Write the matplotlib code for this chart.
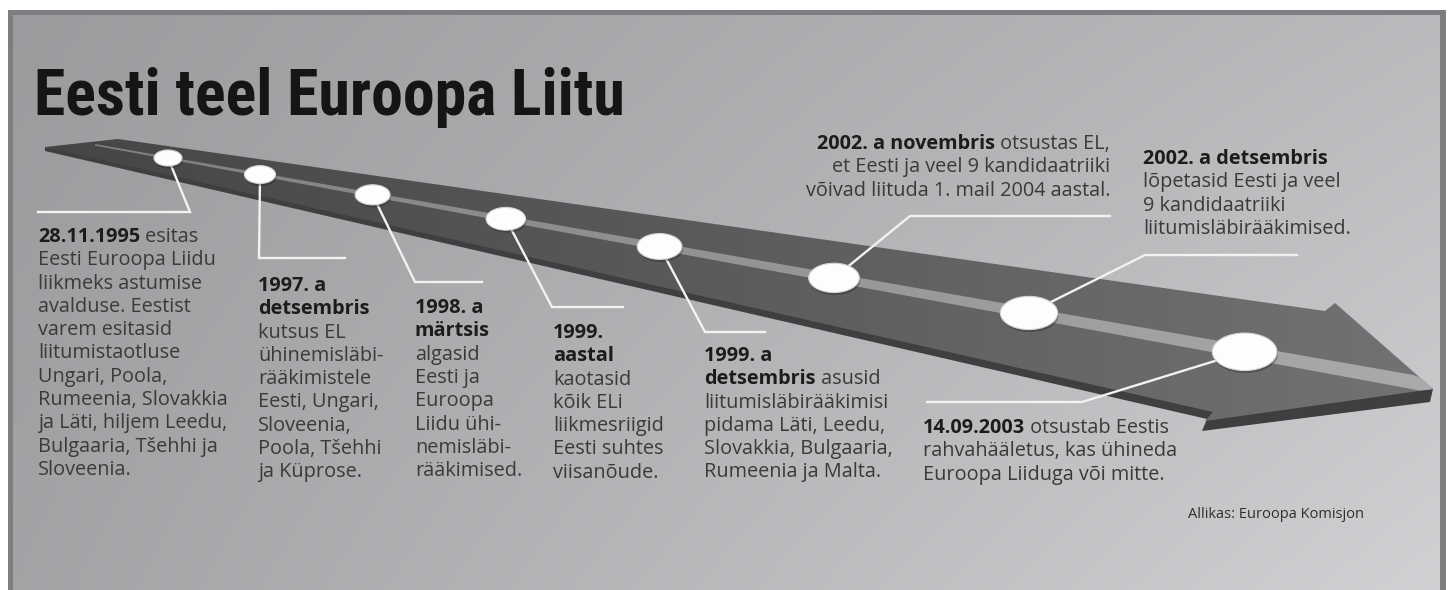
import numpy as np
import matplotlib
matplotlib.use("Agg")
import matplotlib.pyplot as plt
from matplotlib import font_manager
from matplotlib.patches import Polygon, Ellipse

W, H = 1454, 590

title = "Eesti teel Euroopa Liitu"
source = "Allikas: Euroopa Komisjon"

# each event: list of lines, each line = (bold part, plain part)
ev_1995 = [("28.11.1995", " esitas"), ("", "Eesti Euroopa Liidu"), ("", "liikmeks astumise"),
           ("", "avalduse. Eestist"), ("", "varem esitasid"), ("", "liitumistaotluse"),
           ("", "Ungari, Poola,"), ("", "Rumeenia, Slovakkia"), ("", "ja Läti, hiljem Leedu,"),
           ("", "Bulgaaria, Tšehhi ja"), ("", "Sloveenia.")]
ev_1997 = [("1997. a", ""), ("detsembris", ""), ("", "kutsus EL"), ("", "ühinemisläbi-"),
           ("", "rääkimistele"), ("", "Eesti, Ungari,"), ("", "Sloveenia,"),
           ("", "Poola, Tšehhi"), ("", "ja Küprose.")]
ev_1998 = [("1998. a", ""), ("märtsis", ""), ("", "algasid"), ("", "Eesti ja"), ("", "Euroopa"),
           ("", "Liidu ühi-"), ("", "nemisläbi-"), ("", "rääkimised.")]
ev_1999 = [("1999.", ""), ("aastal", ""), ("", "kaotasid"), ("", "kõik ELi"),
           ("", "liikmesriigid"), ("", "Eesti suhtes"), ("", "viisanõude.")]
ev_1999d = [("1999. a", ""), ("detsembris", " asusid"), ("", "liitumisläbirääkimisi"),
            ("", "pidama Läti, Leedu,"), ("", "Slovakkia, Bulgaaria,"), ("", "Rumeenia ja Malta.")]
ev_2002n = [("2002. a novembris", " otsustas EL,"), ("", "et Eesti ja veel 9 kandidaatriiki"),
            ("", "võivad liituda 1. mail 2004 aastal.")]
ev_2002d = [("2002. a detsembris", ""), ("", "lõpetasid Eesti ja veel"), ("", "9 kandidaatriiki"),
            ("", "liitumisläbirääkimised.")]
ev_2003 = [("14.09.2003", " otsustab Eestis"), ("", "rahvahääletus, kas ühineda"),
           ("", "Euroopa Liiduga või mitte.")]

events = [ev_1995, ev_1997, ev_1998, ev_1999, ev_1999d, ev_2002n, ev_2002d, ev_2003]

# layout (pixels): leader elbow, leader end, text anchor, alignment
elbows = [(190, 212), (259, 258), (415, 282), (552, 307), (705, 332), (910, 216), (1145, 255), (1082, 402)]
ends = [(38, 212), (345, 258), (482, 282), (623, 307), (765, 332), (1110, 216), (1297, 255), (927, 402)]
text_xy = [(38, 236), (258, 285), (415, 307), (553, 332), (704, 355), (1110, 143), (1143, 158), (923, 427)]
aligns = ["left"] * 5 + ["right", "left", "left"]
line_h = 23.3


def has_bold(name):
    for f in font_manager.fontManager.ttflist:
        if f.name != name:
            continue
        w = f.weight
        if isinstance(w, str):
            w = font_manager.weight_dict.get(w, 400)
        if w >= 600:
            return True
    return False


names = {f.name for f in font_manager.fontManager.ttflist}
body_font = next((n for n in ["Open Sans", "Noto Sans", "Lato", "Roboto"] if has_bold(n)), "DejaVu Sans")
title_font = next((n for n in ["Roboto Condensed", "Liberation Sans Narrow", "Open Sans Condensed"]
                   if n in names), "DejaVu Sans")

fig = plt.figure(figsize=(W / 100, H / 100), dpi=100, facecolor="white")
ax = fig.add_axes([0, 0, 1, 1])
ax.set_xlim(0, W)
ax.set_ylim(H, 0)
ax.axis("off")

# frame + background gradient
gx, gy = np.meshgrid(np.linspace(0, 1, 300), np.linspace(0, 1, 120))
v = 0.61 + 0.12 * gx + 0.03 * gy + 0.06 * gx * gy
bg = np.dstack([v, v, v + 0.012]).clip(0, 1)
ax.imshow(bg, extent=(13, 1440, 590, 15), aspect="auto", interpolation="bilinear", zorder=0)
frame_c = "#7e7e82"
ax.add_patch(Polygon([(8, 10), (1446, 10), (1446, 15), (8, 15)], closed=True, fc=frame_c, ec="none", zorder=1))
ax.add_patch(Polygon([(8, 10), (13, 10), (13, 590), (8, 590)], closed=True, fc=frame_c, ec="none", zorder=1))
ax.add_patch(Polygon([(1440, 10), (1446, 10), (1446, 590), (1440, 590)], closed=True, fc=frame_c, ec="none", zorder=1))

# arrow: dark under-side, then the top face with a left-to-right gradient
face = [(45, 147), (118, 139), (1325, 311), (1335, 303), (1433, 389), (1205, 421), (1213, 412)]
shadow = [(45, 147), (1433, 389), (1430, 402), (1202, 431), (1207, 419), (45, 151)]
ax.add_patch(Polygon(shadow, closed=True, fc="#3f3f42", ec="none", zorder=2))
face_patch = Polygon(face, closed=True, fc="none", ec="none", zorder=3)
ax.add_patch(face_patch)
grad = np.linspace(0.27, 0.45, 256)[None, :]
im = ax.imshow(np.dstack([grad, grad, grad + 0.01]), extent=(40, 1440, 430, 135),
               aspect="auto", interpolation="bilinear", zorder=3)
im.set_clip_path(face_patch)

# light stripe along the arrow, kept inside the face
top_x, top_y = [45, 118, 1325, 1335, 1433], [147, 139, 311, 303, 389]
bot_x, bot_y = [45, 1209, 1210, 1433], [147, 412, 421, 389]
sx = np.linspace(95, 1433, 200)
yc = 158 + 0.18 * (sx - 168)
hw = 0.8 + 6.5 * (sx - 95) / 1338
s_top = np.maximum(yc - hw, np.interp(sx, top_x, top_y))
s_bot = np.minimum(yc + hw, np.interp(sx, bot_x, bot_y))
s_bot = np.maximum(s_bot, s_top)
stripe = list(zip(sx, s_top)) + list(zip(sx[::-1], s_bot[::-1]))
stripe_patch = Polygon(stripe, closed=True, fc="none", ec="none", zorder=4)
ax.add_patch(stripe_patch)
sgrad = np.linspace(0.50, 0.67, 256)[None, :]
im2 = ax.imshow(np.dstack([sgrad, sgrad, sgrad + 0.01]), extent=(95, 1440, 430, 135),
                aspect="auto", interpolation="bilinear", zorder=4)
im2.set_clip_path(stripe_patch)

# dots along the arrow (perspective spacing)
idx = np.arange(len(events))
dot_x = 168 + 92 * idx + 10.3 * idx * (idx - 1)
dot_y = 158 + 0.18 * (dot_x - 168)
dot_w = 28 + 0.034 * (dot_x - 168)
dot_h = 16 + 0.02 * (dot_x - 168)

for i in idx:
    (ex, ey), (nx, ny) = elbows[i], ends[i]
    ax.plot([dot_x[i], ex, nx], [dot_y[i], ey, ny], color="#f2f2f2", lw=1.7,
            solid_joinstyle="miter", zorder=5)
    ax.add_patch(Ellipse((dot_x[i] + 1, dot_y[i] + 2.5), dot_w[i], dot_h[i],
                         fc="#202020", ec="none", alpha=0.35, zorder=6))
    ax.add_patch(Ellipse((dot_x[i], dot_y[i]), dot_w[i], dot_h[i],
                         fc="#fdfdfd", ec="#d4d4d4", lw=0.8, zorder=7))

# event texts
fs = 14.3
for lines, (tx, ty), ha in zip(events, text_xy, aligns):
    for k, (bold, plain) in enumerate(lines):
        y = ty + k * line_h + 6
        kw = dict(fontsize=fs, family=body_font, zorder=8)
        if ha == "left":
            if bold:
                t = ax.text(tx, y, bold, ha="left", va="baseline", weight="bold", color="#1c1c1c", **kw)
                if plain:
                    ax.annotate(plain, xy=(1, 0), xycoords=t, ha="left", va="bottom",
                                color="#3a3a3a", **kw)
            else:
                ax.text(tx, y, plain, ha="left", va="baseline", color="#3a3a3a", **kw)
        else:
            if plain:
                t = ax.text(tx, y, plain, ha="right", va="baseline", color="#3a3a3a", **kw)
                if bold:
                    ax.annotate(bold, xy=(0, 0), xycoords=t, ha="right", va="bottom",
                                weight="bold", color="#1c1c1c", **kw)
            else:
                ax.text(tx, y, bold, ha="right", va="baseline", weight="bold", color="#1c1c1c", **kw)

ax.text(34, 115, title, ha="left", va="baseline", fontsize=46, weight="black",
        family=title_font, color="#151515", zorder=8)
ax.text(1188, 518, source, ha="left", va="baseline", fontsize=10.5, family=body_font,
        color="#2e2e2e", zorder=8)

fig.savefig("out.png", dpi=100, facecolor="white")
